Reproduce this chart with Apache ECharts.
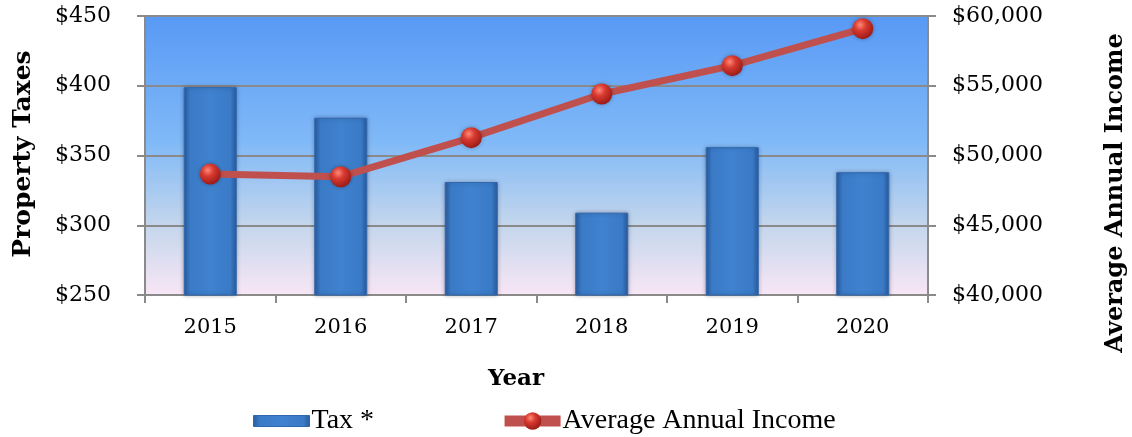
<!DOCTYPE html>
<html><head><meta charset="utf-8">
<script src="https://cdn.jsdelivr.net/npm/echarts@6/dist/echarts.min.js"></script>
<style>html,body{margin:0;padding:0;background:#fff}#c{width:1132px;height:437px}</style>
</head><body><div id="c"></div>
<script>
const years = ['2015','2016','2017','2018','2019','2020'];
const tax = [399, 377, 331, 309, 356, 338];
const income = [48670, 48480, 51280, 54410, 56440, 59090];
const taxTicks = {min: 250, max: 450, interval: 50};
const incomeTicks = {min: 40000, max: 60000, interval: 5000};

const chart = echarts.init(document.getElementById('c'));
const serif = "'DejaVu Serif', serif";
const gridColor = '#8a8a8a';
const markerGrad = new echarts.graphic.RadialGradient(0.38, 0.32, 0.7, [
  {offset: 0, color: '#ff8a78'},
  {offset: 0.4, color: '#d83a30'},
  {offset: 1, color: '#9a1a16'}
]);
const barGrad = new echarts.graphic.LinearGradient(0, 0, 1, 0, [
  {offset: 0, color: '#2a5c9e'},
  {offset: 0.12, color: '#3a7ac6'},
  {offset: 0.5, color: '#3f82cf'},
  {offset: 0.88, color: '#3a7ac6'},
  {offset: 1, color: '#2a5c9e'}
]);
chart.setOption({
  animation: false,
  grid: {
    left: 145, right: 204, top: 16, bottom: 142, show: true, borderWidth: 0,
    backgroundColor: new echarts.graphic.LinearGradient(0, 0, 0, 1, [
      {offset: 0, color: '#5899f5'},
      {offset: 0.45, color: '#80b9f7'},
      {offset: 0.75, color: '#c4d6ec'},
      {offset: 1, color: '#f8e6f5'}
    ])
  },
  legend: {
    left: 248, top: 402, itemWidth: 56, itemHeight: 22, itemGap: 125, symbolKeepAspect: true,
    textStyle: {fontFamily: "'Liberation Serif', serif", fontSize: 28, color: '#000', padding: [0, 0, 0, -3]},
    data: [
      {name: 'Tax *', icon: 'path://M0,0H56V11H0Z', itemStyle: {borderWidth: 1, borderColor: '#2f68ad'}},
      {name: 'Average Annual Income', lineStyle: {width: 11, color: '#c0504d'}, itemStyle: {color: markerGrad}}
    ]
  },
  xAxis: {
    type: 'category', data: years,
    axisLine: {lineStyle: {color: gridColor, width: 2}},
    axisTick: {show: true, length: 8, lineStyle: {color: gridColor, width: 2}},
    axisLabel: {fontFamily: serif, fontSize: 21, color: '#000', margin: 22}
  },
  yAxis: [{
    type: 'value', min: taxTicks.min, max: taxTicks.max, interval: taxTicks.interval,
    axisLine: {show: true, lineStyle: {color: gridColor, width: 2}},
    axisTick: {show: true, length: 8, lineStyle: {color: gridColor, width: 2}},
    splitLine: {lineStyle: {color: gridColor, width: 2}},
    axisLabel: {fontFamily: serif, fontSize: 22, color: '#000', margin: 34, formatter: v => '$' + v}
  }, {
    type: 'value', min: incomeTicks.min, max: incomeTicks.max, interval: incomeTicks.interval,
    position: 'right',
    axisLine: {show: true, lineStyle: {color: gridColor, width: 2}},
    axisTick: {show: true, length: 8, lineStyle: {color: gridColor, width: 2}},
    splitLine: {show: false},
    axisLabel: {fontFamily: serif, fontSize: 22, color: '#000', margin: 24,
      formatter: v => '$' + v.toLocaleString('en-US')}
  }],
  graphic: [
    {type: 'text', rotation: Math.PI / 2, x: 23, y: 154,
      style: {text: 'Property Taxes', font: "bold 25px 'DejaVu Serif'", fill: '#000', textAlign: 'center', textVerticalAlign: 'middle'}},
    {type: 'text', rotation: Math.PI / 2, x: 1116, y: 193,
      style: {text: 'Average Annual Income', font: "bold 24px 'DejaVu Serif'", fill: '#000', textAlign: 'center', textVerticalAlign: 'middle'}},
    {type: 'text', x: 516, y: 379,
      style: {text: 'Year', font: "bold 23px 'DejaVu Serif'", fill: '#000', textAlign: 'center', textVerticalAlign: 'middle'}}
  ],
  series: [{
    name: 'Tax *', type: 'bar', data: tax, barWidth: 53, yAxisIndex: 0,
    itemStyle: {
      color: barGrad,
      borderColor: '#2f68ad', borderWidth: 1,
      shadowColor: 'rgba(0,0,40,0.3)', shadowBlur: 4
    }
  }, {
    name: 'Average Annual Income', type: 'line', data: income, yAxisIndex: 1,
    lineStyle: {color: '#c0504d', width: 7},
    symbol: 'circle', symbolSize: 21,
    itemStyle: {color: markerGrad, shadowColor: 'rgba(0,0,0,0.3)', shadowBlur: 4}
  }]
});
</script></body></html>
